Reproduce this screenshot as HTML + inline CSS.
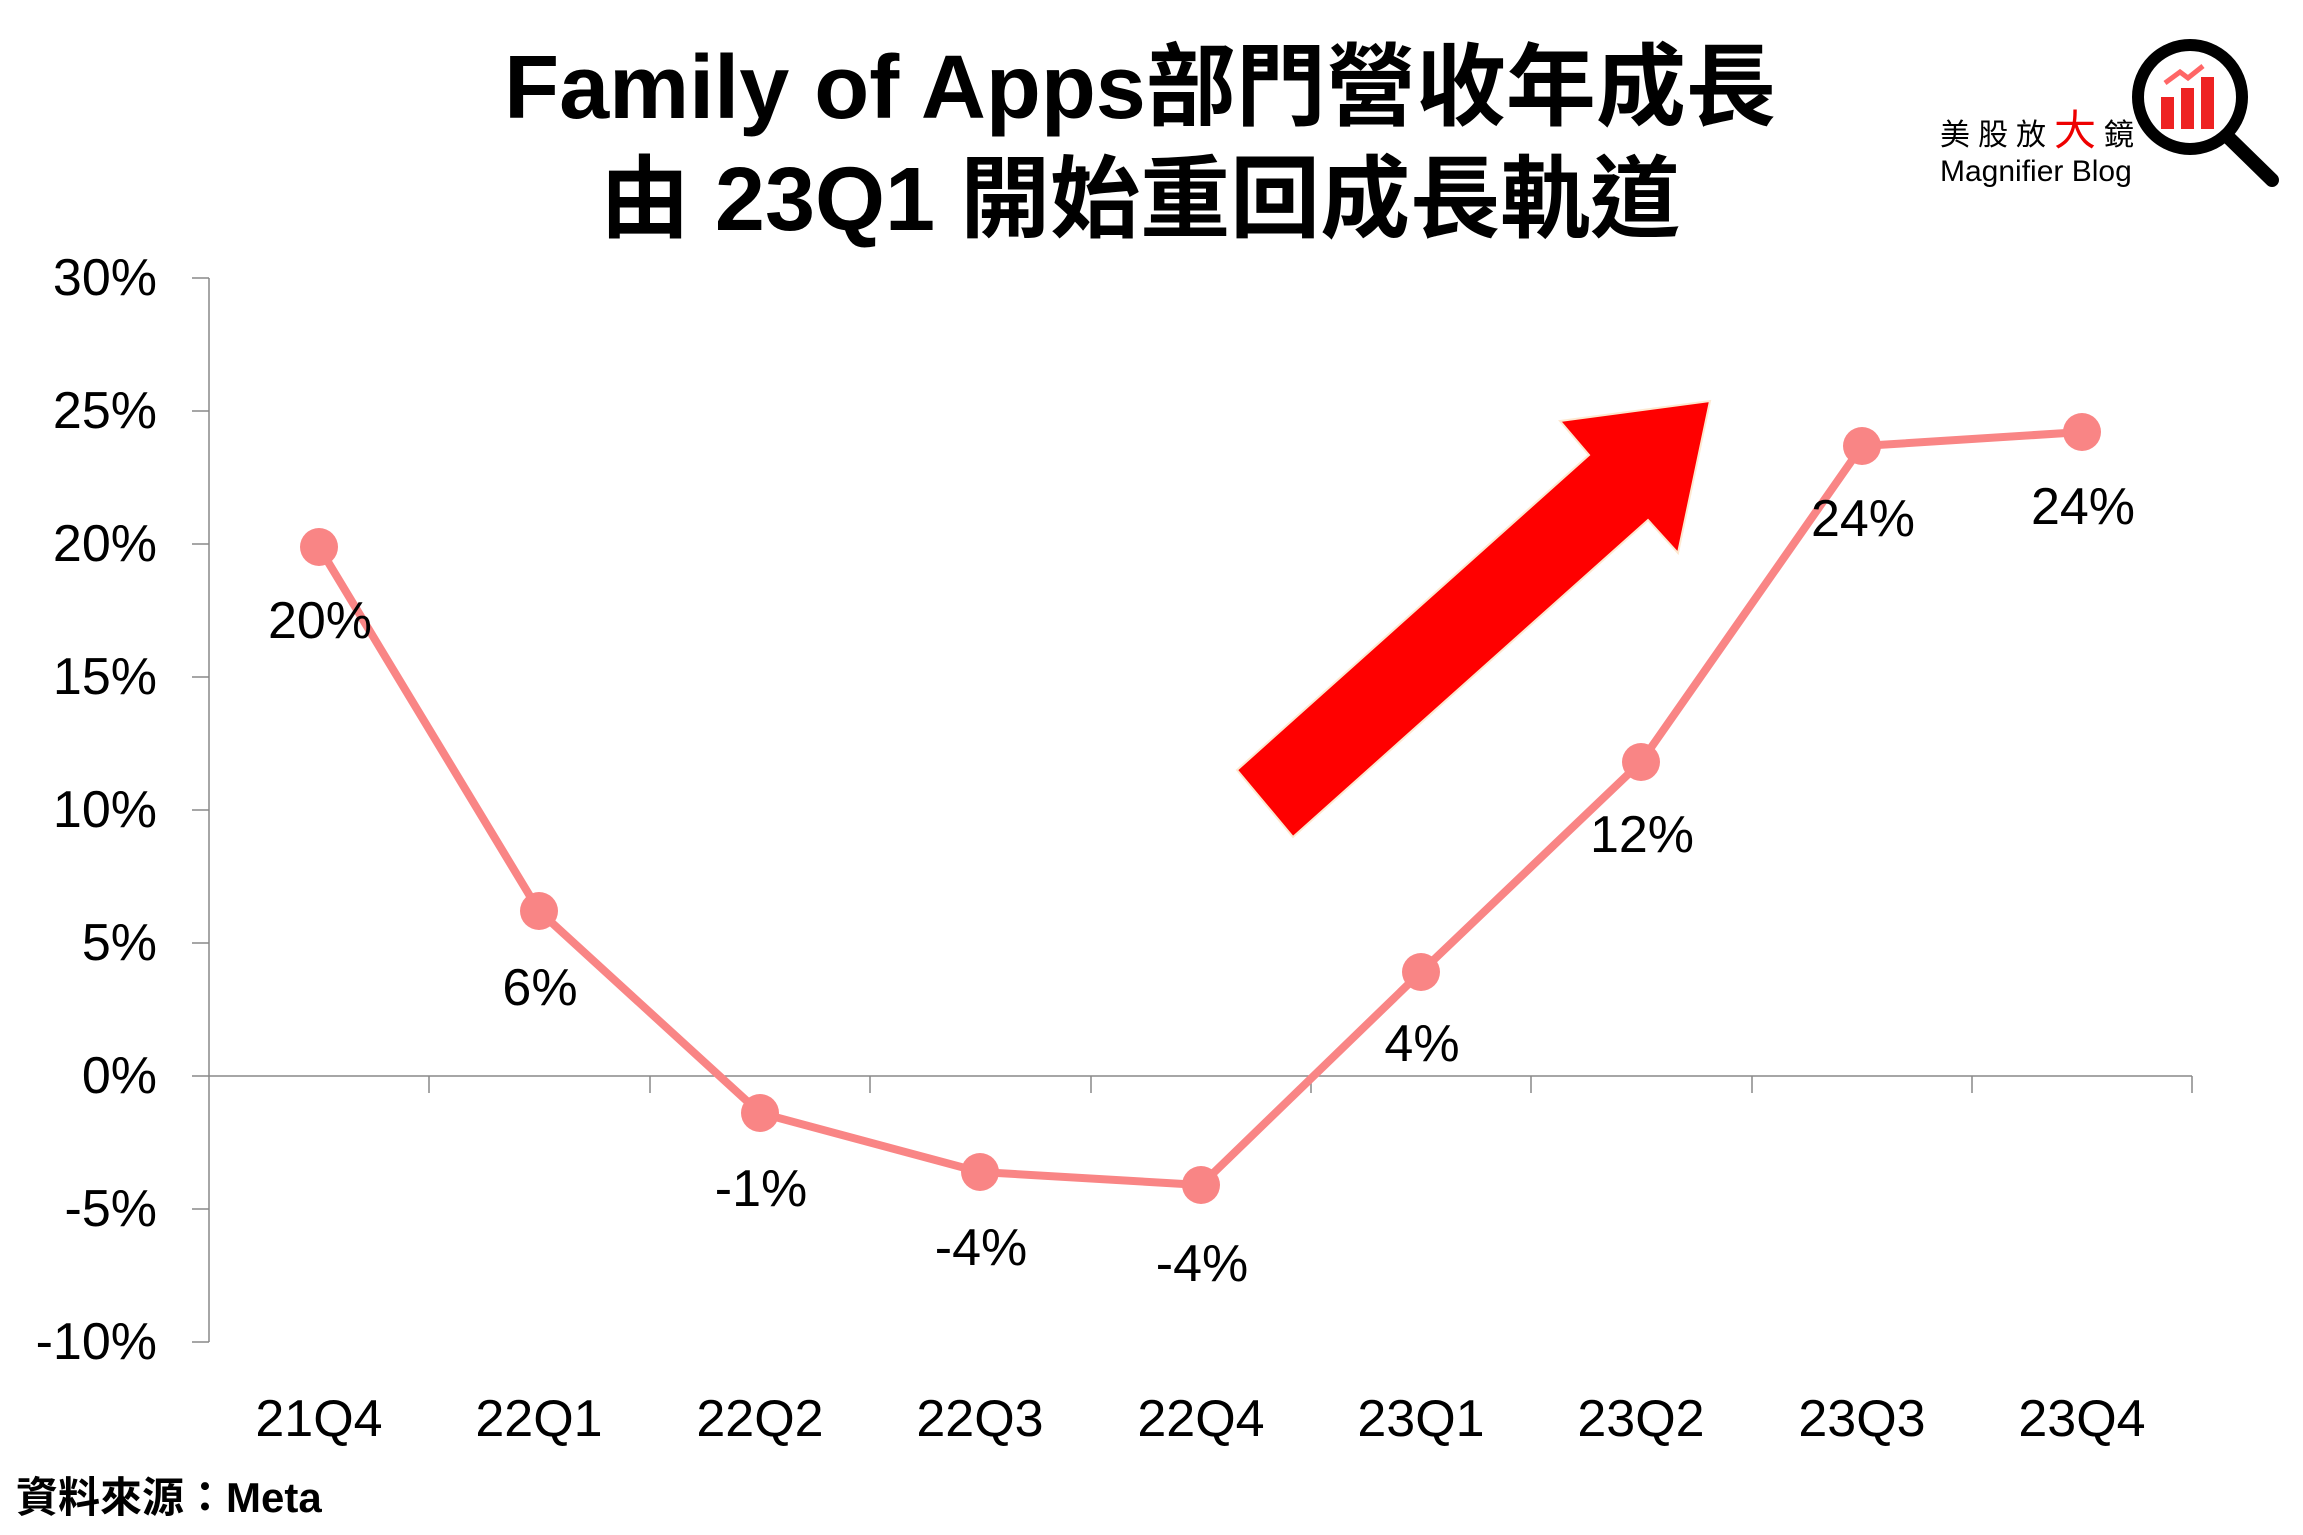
<!DOCTYPE html>
<html><head><meta charset="utf-8"><style>
html,body{margin:0;padding:0;background:#fff;}
svg{display:block;}
text{font-family:"Liberation Sans","Noto Sans CJK TC",sans-serif;}
</style></head><body>
<svg width="2303" height="1535" viewBox="0 0 2303 1535" xmlns="http://www.w3.org/2000/svg">
<rect width="2303" height="1535" fill="#fff"/>
<text x="1140" y="118" font-size="90" font-weight="bold" text-anchor="middle">Family of Apps部門營收年成長</text>
<text x="1140" y="230" font-size="90" font-weight="bold" text-anchor="middle">由 23Q1 開始重回成長軌道</text>
<!-- logo -->
<text x="1940" y="145" font-size="30" letter-spacing="8">美股放<tspan fill="#e00" font-size="42">大</tspan>鏡</text>
<text x="1940" y="181" font-size="30">Magnifier Blog</text>
<circle cx="2190" cy="97" r="52" fill="#fff" stroke="#000" stroke-width="12"/>
<line x1="2228" y1="137" x2="2272" y2="180" stroke="#000" stroke-width="14" stroke-linecap="round"/>
<rect x="2161" y="97" width="13" height="32" fill="#e22"/>
<rect x="2181" y="88" width="13" height="41" fill="#e22"/>
<rect x="2201" y="77" width="13" height="52" fill="#e22"/>
<polyline points="2165,83 2180,72 2188,78 2203,66" fill="none" stroke="#f66" stroke-width="5"/>
<!-- axes -->
<g stroke="#888" stroke-width="1.5">
<line x1="209" y1="278" x2="209" y2="1342"/>
<line x1="192" y1="278" x2="209" y2="278"/><line x1="192" y1="411" x2="209" y2="411"/>
<line x1="192" y1="544" x2="209" y2="544"/><line x1="192" y1="677" x2="209" y2="677"/>
<line x1="192" y1="810" x2="209" y2="810"/><line x1="192" y1="943" x2="209" y2="943"/>
<line x1="192" y1="1076" x2="209" y2="1076"/><line x1="192" y1="1209" x2="209" y2="1209"/>
<line x1="192" y1="1342" x2="209" y2="1342"/>
<line x1="209" y1="1076" x2="2192" y2="1076"/>
<line x1="429" y1="1076" x2="429" y2="1093"/><line x1="650" y1="1076" x2="650" y2="1093"/>
<line x1="870" y1="1076" x2="870" y2="1093"/><line x1="1091" y1="1076" x2="1091" y2="1093"/>
<line x1="1311" y1="1076" x2="1311" y2="1093"/><line x1="1531" y1="1076" x2="1531" y2="1093"/>
<line x1="1752" y1="1076" x2="1752" y2="1093"/><line x1="1972" y1="1076" x2="1972" y2="1093"/>
<line x1="2192" y1="1076" x2="2192" y2="1093"/>
</g>
<g font-size="52" text-anchor="end" dominant-baseline="central">
<text x="157" y="278">30%</text><text x="157" y="411">25%</text><text x="157" y="544">20%</text>
<text x="157" y="677">15%</text><text x="157" y="810">10%</text><text x="157" y="943">5%</text>
<text x="157" y="1076">0%</text><text x="157" y="1209">-5%</text><text x="157" y="1342">-10%</text>
</g>
<g font-size="52" text-anchor="middle" dominant-baseline="central">
<text x="319" y="1419">21Q4</text><text x="539" y="1419">22Q1</text><text x="760" y="1419">22Q2</text>
<text x="980" y="1419">22Q3</text><text x="1201" y="1419">22Q4</text><text x="1421" y="1419">23Q1</text>
<text x="1641" y="1419">23Q2</text><text x="1862" y="1419">23Q3</text><text x="2082" y="1419">23Q4</text>
</g>
<!-- arrow -->
<polygon points="1237,770 1589,455 1560,421 1710,401 1678,553 1648,520 1293,837" fill="#f00" stroke="#fde8d0" stroke-width="2"/>
<!-- series -->
<polyline points="319,547 539,911 760,1113 980,1172 1201,1185 1421,972 1641,762 1862,446 2082,432" fill="none" stroke="#f98585" stroke-width="8"/>
<g fill="#f98585">
<circle cx="319" cy="547" r="19"/><circle cx="539" cy="911" r="19"/><circle cx="760" cy="1113" r="19"/>
<circle cx="980" cy="1172" r="19"/><circle cx="1201" cy="1185" r="19"/><circle cx="1421" cy="972" r="19"/>
<circle cx="1641" cy="762" r="19"/><circle cx="1862" cy="446" r="19"/><circle cx="2082" cy="432" r="19"/>
</g>
<g font-size="52" text-anchor="middle" dominant-baseline="central">
<text x="320" y="621">20%</text><text x="540" y="988">6%</text><text x="761" y="1189">-1%</text>
<text x="981" y="1248">-4%</text><text x="1202" y="1264">-4%</text><text x="1422" y="1044">4%</text>
<text x="1642" y="835">12%</text><text x="1863" y="519">24%</text><text x="2083" y="507">24%</text>
</g>
<text x="16" y="1512" font-size="42" font-weight="bold">資料來源：Meta</text>
</svg>
</body></html>
